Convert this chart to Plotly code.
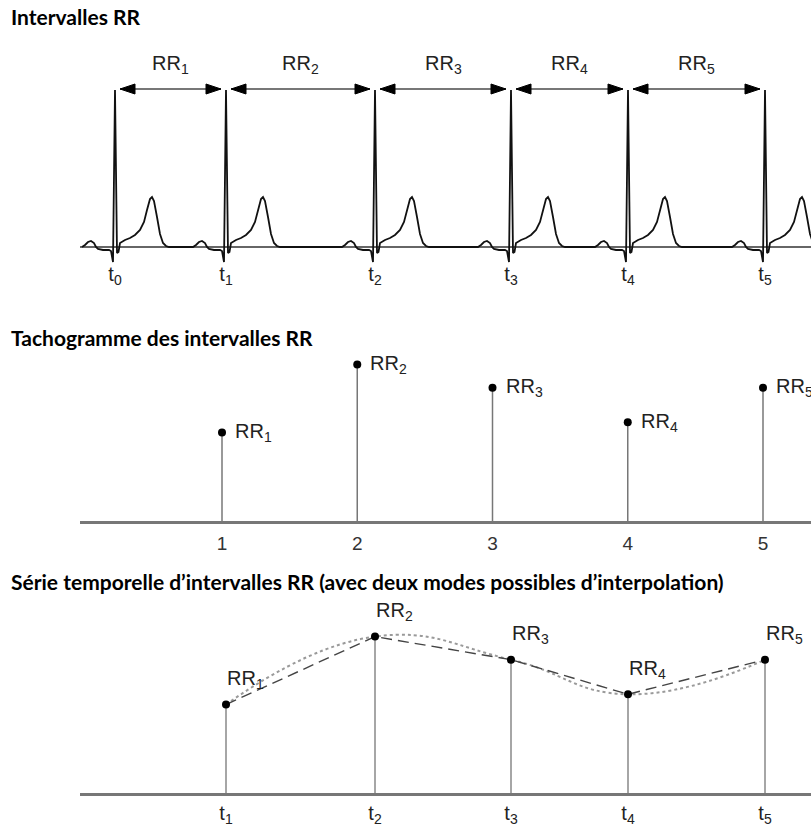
import plotly.graph_objects as go

# ---------------- data ----------------
# R-peak instants (ms) read from the ECG strip
r_peak_ms = [0, 777, 1820, 2772, 3591, 4550]
r_peak_labels = ["t<sub>0</sub>", "t<sub>1</sub>", "t<sub>2</sub>", "t<sub>3</sub>",
                 "t<sub>4</sub>", "t<sub>5</sub>"]

# one heartbeat template (offset from R peak in ms, amplitude in mV)
beat_offset_ms = [-231, -210, -189, -168, -147, -133, -119, -84, -42, -28, -14, 0, 14, 24.5,
                  35, 70, 105, 140, 175, 203, 224, 245, 259, 273, 294, 315, 336, 357, 378]
beat_mv = [0, 0.02, 0.05, 0.06, 0.04, 0, -0.02, -0.03, -0.03, -0.04, -0.15, 1.57, -0.06, -0.05,
           0.04, 0.07, 0.09, 0.12, 0.17, 0.25, 0.37, 0.48, 0.50, 0.46, 0.30, 0.13, 0.04, 0.01, 0]

rr_index = [1, 2, 3, 4, 5]
rr_ms = [775, 1040, 950, 815, 950]
rr_labels = ["RR<sub>1</sub>", "RR<sub>2</sub>", "RR<sub>3</sub>", "RR<sub>4</sub>", "RR<sub>5</sub>"]
tick_index_labels = ["1", "2", "3", "4", "5"]

titles = ["Intervalles RR",
          "Tachogramme des intervalles RR",
          "Série temporelle d’intervalles RR (avec deux modes possibles d’interpolation)"]

# ---------------- layout constants ----------------
W, H = 811, 831
ARIAL = "Liberation Sans, Arial, sans-serif"
TITLE_FONT = "Lato, Open Sans, sans-serif"
x_left_px = 80

def py(p):  # pixel row -> paper fraction
    return 1 - p / H

fig = go.Figure()

# ---------- panel 1: ECG ----------
ecg_x, ecg_y = [], []
for t in r_peak_ms:
    for dx, v in zip(beat_offset_ms, beat_mv):
        ecg_x.append(t + dx)
        ecg_y.append(v)
fig.add_trace(go.Scatter(x=ecg_x, y=ecg_y, mode="lines", xaxis="x", yaxis="y",
                         line=dict(color="#111", width=1.8), hoverinfo="skip"))

arrow_y = 1.58
gap = 35        # ms between R peak and arrow tip
head_len = 105  # ms
head_half = 0.05  # mV
shaft_x, shaft_y, head_x, head_y = [], [], [], []
for i in range(1, len(r_peak_ms)):
    xl = r_peak_ms[i - 1] + gap
    xr = r_peak_ms[i] - gap
    shaft_x += [xl, xr, None]
    shaft_y += [arrow_y, arrow_y, None]
    head_x += [xl, xl + head_len, xl + head_len, xl, None]
    head_y += [arrow_y, arrow_y + head_half, arrow_y - head_half, arrow_y, None]
    head_x += [xr, xr - head_len, xr - head_len, xr, None]
    head_y += [arrow_y, arrow_y + head_half, arrow_y - head_half, arrow_y, None]
fig.add_trace(go.Scatter(x=shaft_x, y=shaft_y, mode="lines", xaxis="x", yaxis="y",
                         line=dict(color="#777", width=2), hoverinfo="skip"))
fig.add_trace(go.Scatter(x=head_x, y=head_y, mode="lines", fill="toself", fillcolor="#000",
                         xaxis="x", yaxis="y", line=dict(color="#000", width=1), hoverinfo="skip"))

annotations = []
for i in range(1, len(r_peak_ms)):
    annotations.append(dict(x=(r_peak_ms[i - 1] + r_peak_ms[i]) / 2, y=arrow_y, xref="x", yref="y",
                            text=rr_labels[i - 1], showarrow=False, yanchor="middle", yshift=24,
                            font=dict(family=ARIAL, size=20, color="#222")))

# ---------- panel 2: tachogram ----------
base2 = 430
sx, sy = [], []
for k, v in zip(rr_index, rr_ms):
    sx += [k, k, None]
    sy += [base2, v, None]
fig.add_trace(go.Scatter(x=sx, y=sy, mode="lines", xaxis="x2", yaxis="y2",
                         line=dict(color="#777", width=1.5), hoverinfo="skip"))
fig.add_trace(go.Scatter(x=rr_index, y=rr_ms, mode="markers", xaxis="x2", yaxis="y2",
                         marker=dict(color="#000", size=8), hoverinfo="skip"))
for k, v, lab in zip(rr_index, rr_ms, rr_labels):
    annotations.append(dict(x=k, y=v, xref="x2", yref="y2", text=lab, showarrow=False,
                            xanchor="left", yanchor="middle", xshift=11, yshift=0,
                            font=dict(family=ARIAL, size=20, color="#222")))

# ---------- panel 3: RR time series ----------
t_rr = r_peak_ms[1:]
fig.add_trace(go.Scatter(x=t_rr, y=rr_ms, mode="lines", xaxis="x3", yaxis="y3",
                         line=dict(color="#9a9a9a", width=2, dash="dot", shape="spline", smoothing=1.3),
                         hoverinfo="skip"))
fig.add_trace(go.Scatter(x=t_rr, y=rr_ms, mode="lines", xaxis="x3", yaxis="y3",
                         line=dict(color="#444", width=1.4, dash="11px,6px"), hoverinfo="skip"))
sx, sy = [], []
for t, v in zip(t_rr, rr_ms):
    sx += [t, t, None]
    sy += [base2, v, None]
fig.add_trace(go.Scatter(x=sx, y=sy, mode="lines", xaxis="x3", yaxis="y3",
                         line=dict(color="#888", width=1.5), hoverinfo="skip"))
fig.add_trace(go.Scatter(x=t_rr, y=rr_ms, mode="markers", xaxis="x3", yaxis="y3",
                         marker=dict(color="#000", size=8), hoverinfo="skip"))
for t, v, lab in zip(t_rr, rr_ms, rr_labels):
    annotations.append(dict(x=t, y=v, xref="x3", yref="y3", text=lab, showarrow=False,
                            xanchor="left", yanchor="middle", xshift=-1, yshift=25,
                            font=dict(family=ARIAL, size=20, color="#222")))

# ---------- titles ----------
for txt, p in zip(titles, [17, 338, 581]):
    annotations.append(dict(x=9 / W, y=py(p), xref="paper", yref="paper", text="<b>" + txt + "</b>",
                            showarrow=False, xanchor="left", yanchor="middle",
                            font=dict(family=TITLE_FONT, size=21, color="#000")))

# ---------- axes ----------
x_dom = [x_left_px / W, 1]
x_rng_ms = [(x_left_px - 115) * 7, (W - 115) * 7]
idx_scale = 135.25
x_rng_idx = [1 + (x_left_px - 222) / idx_scale, 1 + (W - 222) / idx_scale]

common_x = dict(showgrid=False, zeroline=False, ticks="", fixedrange=True)
fig.update_layout(
    width=W, height=H, margin=dict(l=0, r=0, t=0, b=0),
    paper_bgcolor="white", plot_bgcolor="white", showlegend=False,
    xaxis=dict(domain=x_dom, range=x_rng_ms, anchor="y", showline=False,
               tickvals=r_peak_ms, ticktext=r_peak_labels, ticklabelstandoff=-4,
               tickfont=dict(family=ARIAL, size=20, color="#222"), **common_x),
    yaxis=dict(domain=[py(264), py(30)], range=[-0.17, 2.17], anchor="x",
               showgrid=False, showticklabels=False, ticks="", zeroline=True,
               zerolinecolor="#666", zerolinewidth=1.5, showline=False, fixedrange=True),
    xaxis2=dict(domain=x_dom, range=x_rng_idx, anchor="y2", showline=True,
                linecolor="#777", linewidth=2.5, tickvals=rr_index, ticktext=tick_index_labels,
                ticklabelstandoff=3, tickfont=dict(family=ARIAL, size=19, color="#333"), **common_x),
    yaxis2=dict(domain=[py(521), py(340)], range=[base2, base2 + (521 - 340) * 3.9],
                anchor="x2", visible=False, fixedrange=True),
    xaxis3=dict(domain=x_dom, range=x_rng_ms, anchor="y3", showline=True,
                linecolor="#777", linewidth=2.5, tickvals=t_rr, ticktext=r_peak_labels[1:],
                ticklabelstandoff=0, tickfont=dict(family=ARIAL, size=20, color="#222"), **common_x),
    yaxis3=dict(domain=[py(793), py(595)], range=[base2, base2 + (793 - 595) * 3.9],
                anchor="x3", visible=False, fixedrange=True),
    annotations=annotations,
)

fig.write_html("out.html", config={"displayModeBar": False},
               post_script="document.body.style.margin='0';document.body.style.overflow='hidden';")
